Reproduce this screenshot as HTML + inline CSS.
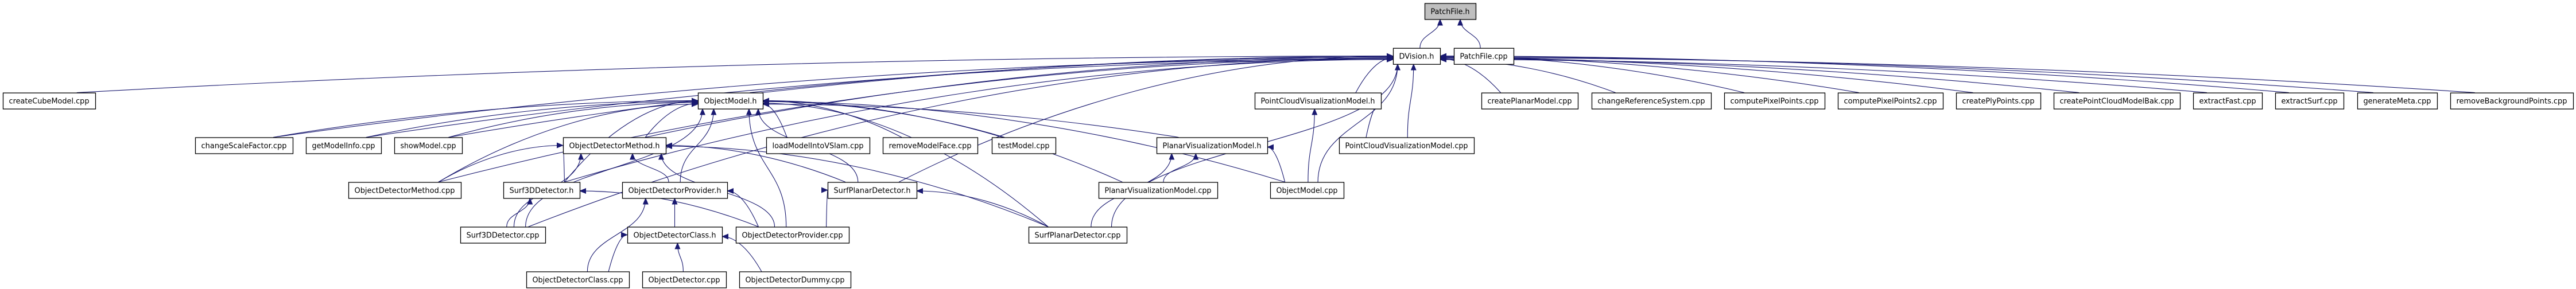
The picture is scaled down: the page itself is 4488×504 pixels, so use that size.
<!DOCTYPE html>
<html><head><meta charset="utf-8"><style>
html,body{margin:0;padding:0;background:#fff;}
svg{display:block;}
text{font-family:"DejaVu Sans","Liberation Sans",sans-serif;font-size:13px;fill:#000;}
</style></head><body>
<svg id="g" width="4488" height="504" viewBox="0 0 4488 504" xmlns="http://www.w3.org/2000/svg">
<defs><marker id="a" markerUnits="userSpaceOnUse" markerWidth="12" markerHeight="10" refX="11" refY="5" orient="auto"><path d="M0,0 L12,5 L0,10 Z" fill="#191970"/></marker></defs>
<g id="edges" fill="none" stroke="#191970" stroke-width="1.1"></g>
<g id="nodes"></g>
</svg>
<script>
var rows=[5.5,83.7,161.6,239.5,317.5,395.5,473.5],H=28;
var N={
"PatchFile.h":[2482,2571,0],
"DVision.h":[2427,2509,1],"PatchFile.cpp":[2533,2637,1],
"createCubeModel.cpp":[5,166,2],"ObjectModel.h":[1216,1329,2],"PointCloudVisualizationModel.h":[2186,2406,2],
"createPlanarModel.cpp":[2581,2749,2],"changeReferenceSystem.cpp":[2773,2981,2],"computePixelPoints.cpp":[3004,3179,2],
"computePixelPoints2.cpp":[3202,3385,2],"createPlyPoints.cpp":[3408,3555,2],"createPointCloudModelBak.cpp":[3578,3798,2],
"extractFast.cpp":[3821,3941,2],"extractSurf.cpp":[3964,4083,2],"generateMeta.cpp":[4107,4246,2],"removeBackgroundPoints.cpp":[4269,4483,2],
"changeScaleFactor.cpp":[340,510,3],"getModelInfo.cpp":[533,664,3],"showModel.cpp":[687,805,3],"ObjectDetectorMethod.h":[981,1160,3],
"loadModelIntoVSlam.cpp":[1335,1515,3],"removeModelFace.cpp":[1538,1703,3],"testModel.cpp":[1728,1839,3],
"PlanarVisualizationModel.h":[2015,2208,3],"PointCloudVisualizationModel.cpp":[2333,2568,3],
"ObjectDetectorMethod.cpp":[607,803,4],"Surf3DDetector.h":[877,1010,4],"ObjectDetectorProvider.h":[1084,1267,4],
"SurfPlanarDetector.h":[1442,1597,4],"PlanarVisualizationModel.cpp":[1914,2121,4],"ObjectModel.cpp":[2213,2341,4],
"Surf3DDetector.cpp":[802,950,5],"ObjectDetectorClass.h":[1093,1258,5],"ObjectDetectorProvider.cpp":[1282,1479,5],"SurfPlanarDetector.cpp":[1792,1963,5],
"ObjectDetectorClass.cpp":[917,1096,6],"ObjectDetector.cpp":[1119,1265,6],"ObjectDetectorDummy.cpp":[1288,1482,6]
};
var E={
"PatchFile.h":["DVision.h","PatchFile.cpp"],
"DVision.h":["createCubeModel.cpp","ObjectModel.h","PointCloudVisualizationModel.h","createPlanarModel.cpp","changeReferenceSystem.cpp","computePixelPoints.cpp","computePixelPoints2.cpp","createPlyPoints.cpp","createPointCloudModelBak.cpp","extractFast.cpp","extractSurf.cpp","generateMeta.cpp","removeBackgroundPoints.cpp","changeScaleFactor.cpp","getModelInfo.cpp","showModel.cpp","ObjectDetectorMethod.h","PointCloudVisualizationModel.cpp","ObjectDetectorMethod.cpp","Surf3DDetector.h","SurfPlanarDetector.h","ObjectModel.cpp","Surf3DDetector.cpp","SurfPlanarDetector.cpp"],
"ObjectModel.h":["changeScaleFactor.cpp","getModelInfo.cpp","showModel.cpp","ObjectDetectorMethod.h","ObjectDetectorMethod.cpp","Surf3DDetector.h","Surf3DDetector.cpp","ObjectDetectorProvider.h","ObjectDetectorProvider.cpp","loadModelIntoVSlam.cpp","removeModelFace.cpp","testModel.cpp","SurfPlanarDetector.h","SurfPlanarDetector.cpp","PlanarVisualizationModel.h","PlanarVisualizationModel.cpp","ObjectModel.cpp"],
"ObjectDetectorMethod.h":["ObjectDetectorMethod.cpp","Surf3DDetector.h","Surf3DDetector.cpp","ObjectDetectorProvider.h","ObjectDetectorProvider.cpp","SurfPlanarDetector.h","SurfPlanarDetector.cpp"],
"Surf3DDetector.h":["Surf3DDetector.cpp","ObjectDetectorProvider.cpp"],
"ObjectDetectorProvider.h":["ObjectDetectorClass.h","ObjectDetectorProvider.cpp","ObjectDetectorClass.cpp"],
"SurfPlanarDetector.h":["ObjectDetectorProvider.cpp","SurfPlanarDetector.cpp"],
"ObjectDetectorClass.h":["ObjectDetectorClass.cpp","ObjectDetector.cpp","ObjectDetectorDummy.cpp"],
"PlanarVisualizationModel.h":["PlanarVisualizationModel.cpp","SurfPlanarDetector.cpp","ObjectModel.cpp"],
"PointCloudVisualizationModel.h":["ObjectModel.cpp","PointCloudVisualizationModel.cpp"]
};
var NS="http://www.w3.org/2000/svg",eg=document.getElementById("edges"),ng=document.getElementById("nodes");
function cl(v,a,b){return Math.max(a,Math.min(b,v));}
for(var t in E){var T=N[t],tx0=T[0],tx1=T[1],ty0=rows[T[2]],ty1=ty0+H,tc=(tx0+tx1)/2;
 var L=E[t];for(var i=0;i<L.length;i++){var S=N[L[i]],sx0=S[0],sx1=S[1],sy=rows[S[2]],sc=(sx0+sx1)/2;
  var dy=sy-ty1,dx=sc-tc,d;
  if(Math.abs(dx)>2.5*Math.max(dy,20)){
   var left=dx<0,ex=left?tx0:tx1,ey=ty0+H*0.5+(i%5)*1.5;
   var sx=left?sc+(sx1-sc)*0.6:sc-(sc-sx0)*0.6;
   d="M"+sx+","+sy+" C"+(sx+(ex-sx)*0.3)+","+(sy-(sy-ey)*0.6)+" "+(ex-(ex-sx)*0.35)+","+ey+" "+ex+","+ey;
  } else {
   var ex2=cl(tc+dx*0.3,tx0+8,tx1-8),ey2=ty1,sx2=cl(sc-dx*0.1,sx0+8,sx1-8);
   d="M"+sx2+","+sy+" C"+sx2+","+(sy-dy*0.5)+" "+ex2+","+(ey2+dy*0.5)+" "+ex2+","+ey2;
  }
  var p=document.createElementNS(NS,"path");p.setAttribute("d",d);p.setAttribute("marker-end","url(#a)");eg.appendChild(p);}}
for(var n in N){var v=N[n],y=rows[v[2]],r=document.createElementNS(NS,"rect");
 r.setAttribute("x",v[0]+0.5);r.setAttribute("y",y+0.5);r.setAttribute("width",v[1]-v[0]);r.setAttribute("height",H);
 r.setAttribute("fill",n=="PatchFile.h"?"#bfbfbf":"#fff");r.setAttribute("stroke","#000");r.setAttribute("stroke-width","1.3");ng.appendChild(r);
 var tx=document.createElementNS(NS,"text");tx.setAttribute("x",(v[0]+v[1])/2);tx.setAttribute("y",y+19);tx.setAttribute("text-anchor","middle");
 tx.setAttribute("textLength",v[1]-v[0]-21);tx.setAttribute("lengthAdjust","spacingAndGlyphs");tx.textContent=n;ng.appendChild(tx);}
</script>
</body></html>
